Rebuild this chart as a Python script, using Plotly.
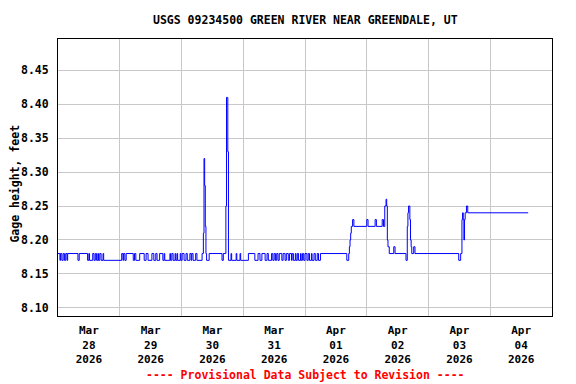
import plotly.graph_objects as go

# ---- data (change points of the 15-minute gage-height record) ----
TIMES = [
    "2026-03-28 00:00", "2026-03-28 00:45", "2026-03-28 01:00", "2026-03-28 01:30", "2026-03-28 02:00",
    "2026-03-28 02:30", "2026-03-28 03:00", "2026-03-28 03:30", "2026-03-28 03:45", "2026-03-28 07:45",
    "2026-03-28 08:15", "2026-03-28 11:30", "2026-03-28 12:00", "2026-03-28 12:15", "2026-03-28 13:30",
    "2026-03-28 14:00", "2026-03-28 14:30", "2026-03-28 15:00", "2026-03-28 15:30", "2026-03-28 15:45",
    "2026-03-28 16:15", "2026-03-28 16:45", "2026-03-28 17:30", "2026-03-28 17:45",
    "2026-03-29 00:45", "2026-03-29 01:15", "2026-03-29 01:30", "2026-03-29 02:00", "2026-03-29 02:30",
    "2026-03-29 05:15", "2026-03-29 05:45", "2026-03-29 06:15", "2026-03-29 07:45", "2026-03-29 09:30",
    "2026-03-29 10:15", "2026-03-29 11:00", "2026-03-29 12:30", "2026-03-29 13:15", "2026-03-29 14:00",
    "2026-03-29 14:30", "2026-03-29 15:30", "2026-03-29 16:45", "2026-03-29 17:15", "2026-03-29 17:30",
    "2026-03-29 19:30", "2026-03-29 19:45", "2026-03-29 20:15", "2026-03-29 20:45", "2026-03-29 21:30",
    "2026-03-29 21:45", "2026-03-29 22:15", "2026-03-29 22:30", "2026-03-29 23:30", "2026-03-29 23:45",
    "2026-03-30 00:15", "2026-03-30 01:00", "2026-03-30 01:45", "2026-03-30 02:15", "2026-03-30 03:15",
    "2026-03-30 03:45", "2026-03-30 04:00", "2026-03-30 04:30", "2026-03-30 05:30", "2026-03-30 06:00",
    "2026-03-30 08:00", "2026-03-30 08:30", "2026-03-30 08:45", "2026-03-30 09:00", "2026-03-30 09:15",
    "2026-03-30 09:30", "2026-03-30 09:45", "2026-03-30 10:45", "2026-03-30 15:45", "2026-03-30 16:15",
    "2026-03-30 17:15", "2026-03-30 17:30", "2026-03-30 17:45", "2026-03-30 18:00", "2026-03-30 18:15",
    "2026-03-30 19:15", "2026-03-30 19:30", "2026-03-30 21:15", "2026-03-30 21:30", "2026-03-30 22:45",
    "2026-03-30 23:00",
    "2026-03-31 02:00", "2026-03-31 04:30", "2026-03-31 05:45", "2026-03-31 06:30", "2026-03-31 07:15",
    "2026-03-31 08:30", "2026-03-31 09:15", "2026-03-31 09:45", "2026-03-31 11:00", "2026-03-31 11:30",
    "2026-03-31 12:00", "2026-03-31 12:30", "2026-03-31 13:00", "2026-03-31 13:30", "2026-03-31 14:00",
    "2026-03-31 15:00", "2026-03-31 15:30", "2026-03-31 16:15", "2026-03-31 16:45", "2026-03-31 17:30",
    "2026-03-31 18:00", "2026-03-31 18:45", "2026-03-31 19:00", "2026-03-31 19:30", "2026-03-31 20:15",
    "2026-03-31 20:30", "2026-03-31 21:00", "2026-03-31 21:30", "2026-03-31 22:15", "2026-03-31 22:30",
    "2026-03-31 23:00", "2026-03-31 23:30",
    "2026-04-01 00:00", "2026-04-01 00:45", "2026-04-01 01:15", "2026-04-01 01:45", "2026-04-01 02:30",
    "2026-04-01 02:45", "2026-04-01 03:30", "2026-04-01 04:00", "2026-04-01 04:45", "2026-04-01 05:15",
    "2026-04-01 06:00", "2026-04-01 16:15", "2026-04-01 17:00", "2026-04-01 17:15", "2026-04-01 17:30",
    "2026-04-01 17:45", "2026-04-01 18:00", "2026-04-01 18:30", "2026-04-01 19:00",
    "2026-04-02 00:00", "2026-04-02 00:30", "2026-04-02 03:15", "2026-04-02 03:45", "2026-04-02 06:00",
    "2026-04-02 06:30", "2026-04-02 07:00", "2026-04-02 07:30", "2026-04-02 07:45", "2026-04-02 08:00",
    "2026-04-02 08:15", "2026-04-02 08:45", "2026-04-02 10:30", "2026-04-02 11:00", "2026-04-02 15:15",
    "2026-04-02 15:45", "2026-04-02 16:00", "2026-04-02 16:15", "2026-04-02 16:45", "2026-04-02 17:00",
    "2026-04-02 17:15", "2026-04-02 17:30", "2026-04-02 18:15", "2026-04-02 18:45",
    "2026-04-03 11:45", "2026-04-03 12:30", "2026-04-03 13:00", "2026-04-03 13:15", "2026-04-03 13:30",
    "2026-04-03 13:45", "2026-04-03 14:00", "2026-04-03 14:15", "2026-04-03 14:45", "2026-04-03 15:15",
    "2026-04-04 14:45",
]
GAGE_FT = [
    8.18, 8.17, 8.18, 8.17, 8.18,
    8.17, 8.18, 8.17, 8.18, 8.17,
    8.18, 8.17, 8.18, 8.17, 8.18,
    8.17, 8.18, 8.17, 8.18, 8.17,
    8.18, 8.17, 8.18, 8.17,
    8.18, 8.17, 8.18, 8.17, 8.18,
    8.17, 8.18, 8.17, 8.18, 8.17,
    8.18, 8.17, 8.18, 8.17, 8.18,
    8.17, 8.18, 8.17, 8.18, 8.17,
    8.18, 8.17, 8.18, 8.17, 8.18,
    8.17, 8.18, 8.17, 8.18, 8.17,
    8.18, 8.17, 8.18, 8.17, 8.18,
    8.17, 8.18, 8.17, 8.18, 8.17,
    8.18, 8.21, 8.32, 8.28, 8.22,
    8.18, 8.17, 8.18, 8.17, 8.18,
    8.25, 8.41, 8.41, 8.33, 8.17,
    8.18, 8.17, 8.18, 8.17, 8.18,
    8.17,
    8.18, 8.17, 8.18, 8.17, 8.18,
    8.17, 8.18, 8.17, 8.18, 8.17,
    8.18, 8.17, 8.18, 8.17, 8.18,
    8.17, 8.18, 8.17, 8.18, 8.17,
    8.18, 8.17, 8.18, 8.17, 8.18,
    8.17, 8.18, 8.17, 8.18, 8.17,
    8.18, 8.17,
    8.18, 8.17, 8.18, 8.17, 8.18,
    8.17, 8.18, 8.17, 8.18, 8.17,
    8.18, 8.17, 8.18, 8.19, 8.20,
    8.21, 8.22, 8.23, 8.22,
    8.23, 8.22, 8.23, 8.22, 8.23,
    8.22, 8.25, 8.26, 8.25, 8.20,
    8.19, 8.18, 8.19, 8.18, 8.17,
    8.22, 8.24, 8.25, 8.23, 8.20,
    8.19, 8.18, 8.19, 8.18,
    8.17, 8.18, 8.23, 8.24, 8.23,
    8.20, 8.23, 8.24, 8.25, 8.24,
    8.24,
]

DAY_STARTS = ["2026-03-28", "2026-03-29", "2026-03-30", "2026-03-31",
              "2026-04-01", "2026-04-02", "2026-04-03", "2026-04-04", "2026-04-05"]
LABEL_POS = ["2026-03-28 12:00", "2026-03-29 12:00", "2026-03-30 12:00", "2026-03-31 12:00",
             "2026-04-01 12:00", "2026-04-02 12:00", "2026-04-03 12:00", "2026-04-04 12:00"]
LABEL_TEXT = ["Mar<br>28<br>2026", "Mar<br>29<br>2026", "Mar<br>30<br>2026", "Mar<br>31<br>2026",
              "Apr<br>01<br>2026", "Apr<br>02<br>2026", "Apr<br>03<br>2026", "Apr<br>04<br>2026"]
Y_TICKS = [8.10, 8.15, 8.20, 8.25, 8.30, 8.35, 8.40, 8.45]

FONT = "DejaVu Sans Mono"
FS = 11.5

fig = go.Figure()
fig.add_trace(go.Scatter(
    x=TIMES, y=GAGE_FT, mode="lines", line=dict(color="#0000ff", width=1, shape="hv"),
    showlegend=False, hoverinfo="x+y",
))

# the page body has an 8px default margin, so the figure is shrunk/shifted to compensate
fig.update_layout(
    width=568, height=376,
    margin=dict(l=50, r=24, t=31, b=68),
    paper_bgcolor="white", plot_bgcolor="white",
    font=dict(family=FONT, size=FS, color="black", weight="bold"),
    xaxis=dict(
        type="date",
        range=[DAY_STARTS[0], DAY_STARTS[-1]],
        tickmode="array", tickvals=LABEL_POS, ticktext=LABEL_TEXT,
        ticks="", showgrid=False, zeroline=False,
        tickfont=dict(family=FONT, size=11, color="black", weight="bold"),
        ticklabelstandoff=4,
        minor=dict(tickmode="array", tickvals=DAY_STARTS, showgrid=True,
                   gridcolor="#c8c8c8", gridwidth=1, ticks=""),
        showline=True, linecolor="black", linewidth=1, mirror=True,
        fixedrange=True,
    ),
    yaxis=dict(
        range=[8.088, 8.496],
        tickmode="array", tickvals=Y_TICKS, ticktext=[f"{v:.2f}" for v in Y_TICKS],
        ticks="", showgrid=True, gridcolor="#c8c8c8", gridwidth=1, zeroline=False,
        tickfont=dict(family=FONT, size=FS, color="black", weight="bold"),
        ticklabelstandoff=6,
        showline=True, linecolor="black", linewidth=1, mirror=True,
        fixedrange=True,
    ),
    annotations=[
        dict(text="USGS 09234500 GREEN RIVER NEAR GREENDALE, UT", xref="paper", yref="paper",
             x=0.5, y=1.0686, xanchor="center", yanchor="middle", showarrow=False,
             font=dict(family=FONT, size=FS, color="black", weight="bold")),
        dict(text="Gage height, feet", xref="paper", yref="paper", x=0, xshift=-43,
             y=0.478, xanchor="center", yanchor="middle", textangle=-90, showarrow=False,
             font=dict(family=FONT, size=FS, color="black", weight="bold")),
        dict(text="---- Provisional Data Subject to Revision ----", xref="paper", yref="paper",
             x=0.5, y=-0.213, xanchor="center", yanchor="middle", showarrow=False,
             font=dict(family=FONT, size=FS, color="#ff0000", weight="bold")),
    ],
)

fig.write_html("out.html")
